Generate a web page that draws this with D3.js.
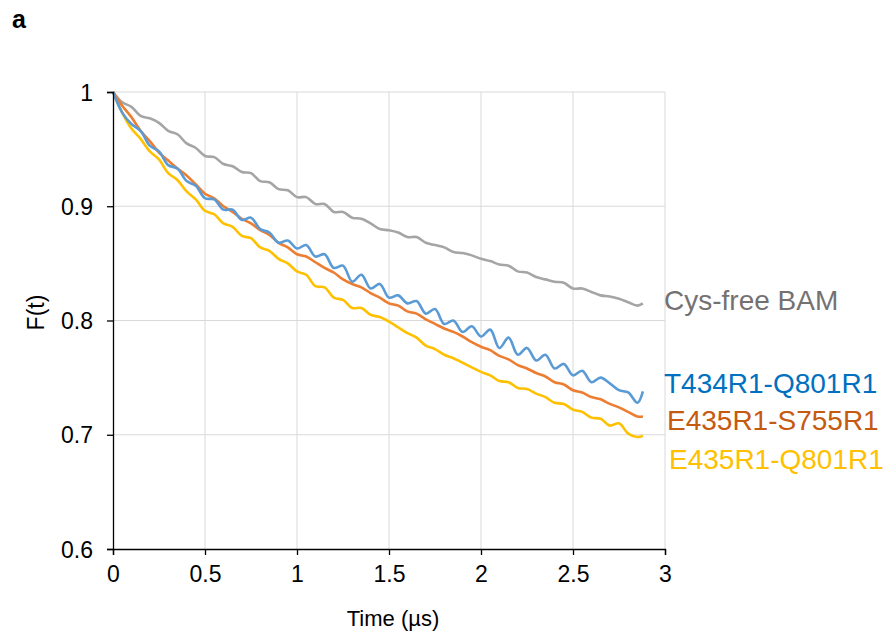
<!DOCTYPE html>
<html>
<head>
<meta charset="utf-8">
<script src="https://cdn.jsdelivr.net/npm/d3@7"></script>
<style>
  body { margin: 0; background: #fff; }
  svg text { font-family: "Liberation Sans", Arial, sans-serif; }
</style>
</head>
<body>
<svg id="chart"></svg>
<script>
// time axis (µs), sampled every 0.05
const times = [0, 0.05, 0.1, 0.15, 0.2, 0.25, 0.3, 0.35, 0.4, 0.45, 0.5, 0.55, 0.6, 0.65, 0.7, 0.75, 0.8, 0.85, 0.9, 0.95,
  1.0, 1.05, 1.1, 1.15, 1.2, 1.25, 1.3, 1.35, 1.4, 1.45, 1.5, 1.55, 1.6, 1.65, 1.7, 1.75, 1.8, 1.85, 1.9, 1.95,
  2.0, 2.05, 2.1, 2.15, 2.2, 2.25, 2.3, 2.35, 2.4, 2.45, 2.5, 2.55, 2.6, 2.65, 2.7, 2.75, 2.8, 2.85, 2.88];

const cysFree = [1.000, 0.991, 0.987, 0.979, 0.977, 0.973, 0.966, 0.963, 0.955, 0.951, 0.944, 0.943, 0.937, 0.935, 0.930, 0.929, 0.922, 0.921, 0.915, 0.914,
  0.908, 0.908, 0.902, 0.902, 0.895, 0.895, 0.890, 0.889, 0.885, 0.880, 0.879, 0.877, 0.873, 0.873, 0.868, 0.866, 0.864, 0.860, 0.859, 0.857,
  0.854, 0.852, 0.849, 0.848, 0.843, 0.842, 0.838, 0.836, 0.834, 0.833, 0.828, 0.828, 0.825, 0.822, 0.821, 0.819, 0.816, 0.813, 0.815];

const t434q801 = [1.000, 0.982, 0.972, 0.966, 0.953, 0.948, 0.936, 0.933, 0.922, 0.918, 0.907, 0.906, 0.897, 0.897, 0.888, 0.890, 0.880, 0.877, 0.868, 0.870,
  0.863, 0.866, 0.856, 0.858, 0.846, 0.848, 0.834, 0.840, 0.828, 0.832, 0.820, 0.822, 0.815, 0.817, 0.806, 0.810, 0.797, 0.800, 0.790, 0.795,
  0.786, 0.792, 0.776, 0.785, 0.770, 0.776, 0.765, 0.770, 0.758, 0.762, 0.752, 0.756, 0.746, 0.750, 0.745, 0.739, 0.737, 0.728, 0.738];

const e435s755 = [1.000, 0.988, 0.978, 0.966, 0.957, 0.947, 0.940, 0.933, 0.927, 0.919, 0.911, 0.907, 0.900, 0.895, 0.889, 0.885, 0.879, 0.875, 0.868, 0.864,
  0.858, 0.856, 0.851, 0.846, 0.842, 0.836, 0.832, 0.829, 0.824, 0.820, 0.815, 0.813, 0.808, 0.806, 0.801, 0.797, 0.793, 0.790, 0.786, 0.781,
  0.777, 0.774, 0.769, 0.766, 0.761, 0.758, 0.754, 0.751, 0.746, 0.744, 0.739, 0.737, 0.733, 0.731, 0.727, 0.724, 0.720, 0.716, 0.716];

const e435q801 = [1.000, 0.982, 0.968, 0.959, 0.948, 0.941, 0.929, 0.923, 0.913, 0.906, 0.896, 0.893, 0.885, 0.882, 0.874, 0.872, 0.864, 0.861, 0.854, 0.850,
  0.843, 0.840, 0.830, 0.829, 0.820, 0.818, 0.811, 0.811, 0.805, 0.803, 0.799, 0.794, 0.789, 0.785, 0.778, 0.775, 0.770, 0.767, 0.763, 0.759,
  0.755, 0.752, 0.747, 0.746, 0.741, 0.740, 0.736, 0.733, 0.728, 0.727, 0.722, 0.720, 0.715, 0.714, 0.708, 0.710, 0.701, 0.698, 0.699];

const seriesNames = ["Cys-free BAM", "E435R1-Q801R1", "E435R1-S755R1", "T434R1-Q801R1"];
const seriesValues = [cysFree, e435q801, e435s755, t434q801];

const xTicks = [0, 0.5, 1, 1.5, 2, 2.5, 3];
const yTicks = [0.6, 0.7, 0.8, 0.9, 1];

// styling per series
const lineColors = {"Cys-free BAM": "#a5a5a5", "T434R1-Q801R1": "#5b9bd5", "E435R1-S755R1": "#ed7d31", "E435R1-Q801R1": "#ffc000"};
const textColors = {"Cys-free BAM": "#757171", "T434R1-Q801R1": "#0070c0", "E435R1-S755R1": "#c55a11", "E435R1-Q801R1": "#ffc000"};
const labelY = {"Cys-free BAM": 300, "T434R1-Q801R1": 383, "E435R1-S755R1": 420, "E435R1-Q801R1": 459};
const labelX = {"Cys-free BAM": 664, "T434R1-Q801R1": 664, "E435R1-S755R1": 667, "E435R1-Q801R1": 669};

const width = 885, height = 632;
const margin = {top: 92, right: 220, bottom: 83, left: 113};

const svg = d3.select('#chart')
  .attr('width', width)
  .attr('height', height);

const x = d3.scaleLinear().domain([0, 3]).range([margin.left, width - margin.right]);
const y = d3.scaleLinear().domain([0.6, 1]).range([height - margin.bottom, margin.top]);

// gridlines
svg.append('g')
  .selectAll('line.h')
  .data(yTicks.filter(d => d > 0.6))
  .enter().append('line')
  .attr('x1', x(0)).attr('x2', x(3))
  .attr('y1', d => y(d)).attr('y2', d => y(d))
  .attr('stroke', '#d9d9d9').attr('stroke-width', 1);

svg.append('g')
  .selectAll('line.v')
  .data(xTicks.filter(d => d > 0))
  .enter().append('line')
  .attr('x1', d => x(d)).attr('x2', d => x(d))
  .attr('y1', y(0.6)).attr('y2', y(1))
  .attr('stroke', '#d9d9d9').attr('stroke-width', 1);

// the curves
const line = d3.line()
  .x((d, i) => x(times[i]))
  .y(d => y(d))
  .curve(d3.curveCatmullRom);

svg.append('g')
  .selectAll('path')
  .data(seriesNames)
  .enter().append('path')
  .attr('d', (name, i) => line(seriesValues[i]))
  .attr('fill', 'none')
  .attr('stroke', name => lineColors[name])
  .attr('stroke-width', 2.6)
  .attr('stroke-linejoin', 'round');

// axes
const xAxis = svg.append('g')
  .attr('transform', `translate(0, ${y(0.6)})`)
  .call(d3.axisBottom(x).tickValues(xTicks).tickSize(6).tickPadding(11).tickFormat(d3.format('')));

const yAxis = svg.append('g')
  .attr('transform', `translate(${x(0)}, 0)`)
  .call(d3.axisLeft(y).tickValues(yTicks).tickSize(6).tickPadding(14).tickFormat(d3.format('')));

[xAxis, yAxis].forEach(a => {
  a.select('.domain').attr('stroke', '#000').attr('stroke-width', 1.3);
  a.selectAll('.tick line').attr('stroke', '#000').attr('stroke-width', 1.3);
  a.selectAll('.tick text').attr('fill', '#000').style('font-size', '23px');
});
yAxis.selectAll('.tick text').attr('dy', '0.35em');

// axis titles
svg.append('text')
  .attr('x', (x(0) + x(3)) / 2 + 4)
  .attr('y', 626)
  .attr('text-anchor', 'middle')
  .style('font-size', '22px')
  .text('Time (µs)');

svg.append('text')
  .attr('transform', `translate(44, ${(y(0.6) + y(1)) / 2 - 8}) rotate(-90)`)
  .attr('text-anchor', 'middle')
  .style('font-size', '23px')
  .text('F(t)');

// series labels at the right
svg.append('g')
  .selectAll('text')
  .data(seriesNames)
  .enter().append('text')
  .attr('x', d => labelX[d])
  .attr('y', d => labelY[d])
  .attr('dy', '0.35em')
  .attr('fill', d => textColors[d])
  .style('font-size', '28px')
  .text(d => d);

// panel letter
svg.append('text')
  .attr('x', 12)
  .attr('y', 28)
  .style('font-size', '25px')
  .style('font-weight', 'bold')
  .text('a');
</script>
</body>
</html>
